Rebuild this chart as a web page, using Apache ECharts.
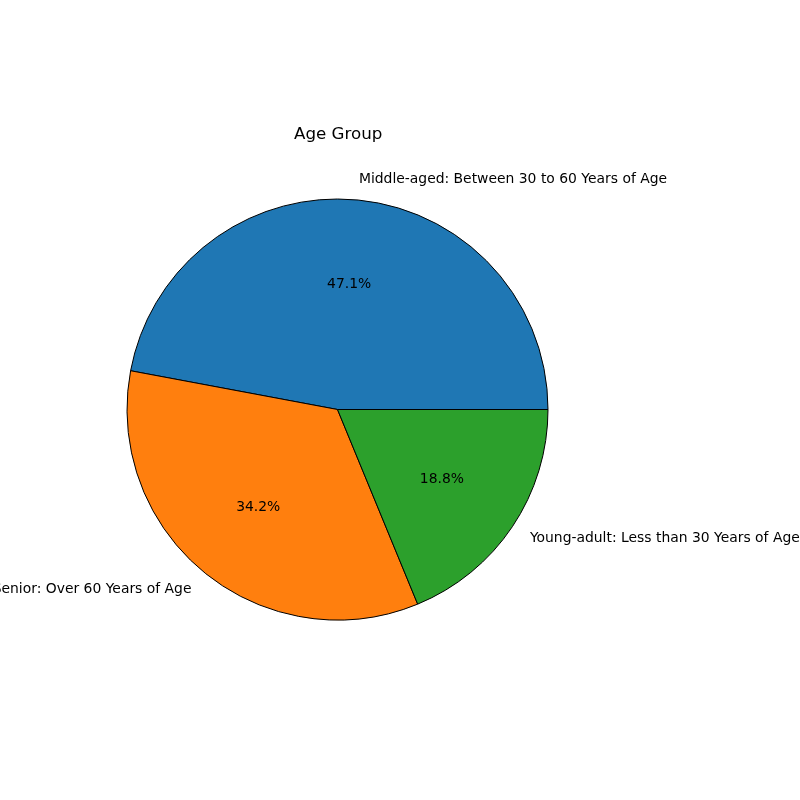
<!DOCTYPE html>
<html>
<head>
<meta charset="utf-8">
<script src="https://cdn.jsdelivr.net/npm/echarts@6/dist/echarts.min.js"></script>
<style>
  html, body { margin: 0; padding: 0; background: #fff; }
  #chart { width: 800px; height: 800px; }
</style>
</head>
<body>
<div id="chart"></div>
<script>
// data
const categories = [
  'Middle-aged: Between 30 to 60 Years of Age',
  'Senior: Over 60 Years of Age',
  'Young-adult: Less than 30 Years of Age'
];
const shares = [47.1, 34.2, 18.8];
const colors = ['#1f77b4', '#ff7f0e', '#2ca02c'];

const font = 'DejaVu Sans';
const radius = 210.5;
const center = [337.5, 409.5];

const pieData = categories.map((name, i) => ({
  name,
  value: shares[i],
  itemStyle: { color: colors[i] }
}));

const chart = echarts.init(document.getElementById('chart'));

chart.setOption({
  animation: false,
  title: {
    text: 'Age Group',
    left: 289,
    top: 121,
    textStyle: { fontFamily: font, fontSize: 16.7, fontWeight: 'normal', color: '#000' }
  },
  series: [
    {
      // wedges + outer category labels
      type: 'pie',
      center: center,
      radius: [0, radius],
      startAngle: 0,
      clockwise: false,
      avoidLabelOverlap: false,
      silent: true,
      data: pieData,
      itemStyle: { borderColor: '#000', borderWidth: 1 },
      label: {
        show: true,
        position: 'outside',
        distanceToLabelLine: 0,
        formatter: '{b}',
        fontFamily: font,
        fontSize: 13.9,
        padding: [2, 0, 0, 0],
        color: '#000'
      },
      labelLine: { show: false, length: radius * 0.1, length2: 0 }
    },
    {
      // transparent copy so the inside labels sit near 0.6 r
      type: 'pie',
      center: center,
      radius: [0, radius * 1.165],
      startAngle: 0,
      clockwise: false,
      silent: true,
      data: pieData.map(d => ({ name: d.name, value: d.value })),
      itemStyle: { color: 'rgba(0,0,0,0)', borderWidth: 0 },
      label: {
        show: true,
        position: 'inside',
        formatter: p => p.value.toFixed(1) + '%',
        fontFamily: font,
        fontSize: 13.9,
        color: '#000'
      },
      labelLine: { show: false }
    }
  ]
});
</script>
</body>
</html>
